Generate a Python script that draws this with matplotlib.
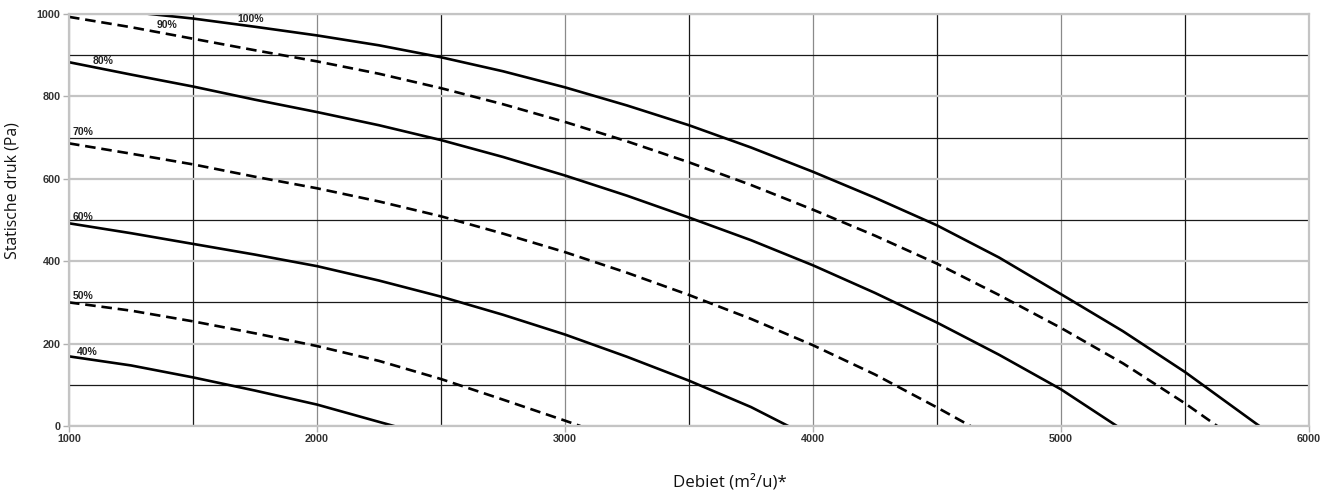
import matplotlib
matplotlib.use("Agg")
import matplotlib.pyplot as plt
from matplotlib.ticker import MultipleLocator

# Data (flow in m3/h, static pressure in Pa)
p100_x = [1250, 1500, 1750, 2000, 2250, 2500, 2750, 3000, 3250, 3500, 3750, 4000,
          4250, 4500, 4750, 5000, 5250, 5500, 5800]
p100_y = [1005, 989, 969, 948, 924, 895, 861, 822, 778, 730, 676, 617,
          554, 487, 409, 320, 230, 131, 0]
p90_x = [1000, 1250, 1500, 1750, 2000, 2250, 2500, 2750, 3000, 3250, 3500, 3750,
         4000, 4250, 4500, 4750, 5000, 5250, 5500, 5630]
p90_y = [993, 968, 940, 912, 885, 855, 820, 781, 738, 691, 640, 585,
         525, 462, 394, 318, 238, 152, 55, 0]
p80_x = [1000, 1250, 1500, 1750, 2000, 2250, 2500, 2750, 3000, 3250, 3500, 3750,
         4000, 4250, 4500, 4750, 5000, 5225]
p80_y = [883, 853, 824, 792, 762, 730, 694, 653, 608, 559, 506, 451,
         390, 323, 251, 173, 89, 0]
p70_x = [1000, 1250, 1500, 1750, 2000, 2250, 2500, 2750, 3000, 3250, 3500, 3750,
         4000, 4250, 4500, 4635]
p70_y = [686, 661, 635, 605, 577, 545, 509, 467, 422, 372, 318, 260,
         196, 125, 45, 0]
p60_x = [1000, 1250, 1500, 1750, 2000, 2250, 2500, 2750, 3000, 3250, 3500, 3750, 3900]
p60_y = [492, 468, 442, 416, 388, 353, 314, 270, 222, 168, 110, 46, 0]
p50_x = [1000, 1250, 1500, 1750, 2000, 2250, 2500, 2750, 3000, 3062]
p50_y = [300, 280, 254, 225, 194, 158, 114, 64, 13, 0]
p40_x = [1000, 1250, 1500, 1750, 2000, 2250, 2310]
p40_y = [169, 147, 118, 86, 52, 10, 0]

series_labels = ["100%", "90%", "80%", "70%", "60%", "50%", "40%"]
label_x = [1680, 1355, 1097, 1016, 1016, 1016, 1030]
label_y = [988, 973, 886, 714, 507, 316, 180]

xticks = [1000, 2000, 3000, 4000, 5000, 6000]
yticks = [0, 200, 400, 600, 800, 1000]

fig = plt.figure(figsize=(13.35, 4.96), dpi=100)
ax = fig.add_axes([69 / 1335, 1 - 426 / 496, (1309 - 69) / 1335, (426 - 14) / 496])

ax.set_xlim(1000, 6000)
ax.set_ylim(0, 1000)
ax.xaxis.set_minor_locator(MultipleLocator(500))
ax.yaxis.set_minor_locator(MultipleLocator(100))
ax.set_xticks(xticks)
ax.set_yticks(yticks)

# grid
ax.grid(True, which="major", axis="y", color="#c4c4c4", lw=1.6)
ax.grid(True, which="major", axis="x", color="#8a8a8a", lw=0.9)
ax.grid(True, which="minor", color="#1a1a1a", lw=0.9)
ax.set_axisbelow(True)

for s in ax.spines.values():
    s.set_color("#c4c4c4")
    s.set_linewidth(1.6)

ax.tick_params(which="major", length=4, width=1, color="#b0b0b0",
               labelsize=7.8, labelcolor="#333333", pad=2)
ax.tick_params(which="minor", length=0)
for lab in ax.get_xticklabels() + ax.get_yticklabels():
    lab.set_fontweight("bold")
    lab.set_family("Liberation Sans")

solid = dict(color="black", lw=1.9, solid_joinstyle="round")
dashed = dict(color="black", lw=1.9, linestyle=(0, (4, 2.2)))
ax.plot(p100_x, p100_y, **solid)
ax.plot(p90_x, p90_y, **dashed)
ax.plot(p80_x, p80_y, **solid)
ax.plot(p70_x, p70_y, **dashed)
ax.plot(p60_x, p60_y, **solid)
ax.plot(p50_x, p50_y, **dashed)
ax.plot(p40_x, p40_y, **solid)

for t, x, y in zip(series_labels, label_x, label_y):
    ax.text(x, y, t, fontsize=7.5, fontweight="bold", family="Liberation Sans",
            color="#222222", ha="left", va="center")

fig.text(13 / 1335, 1 - 191 / 496, "Statische druk (Pa)", rotation=90,
         ha="center", va="center", fontsize=11.4, family="Open Sans", color="#111111")
fig.text(730 / 1335, 1 - 482 / 496, "Debiet (m\u00b2/u)*",
         ha="center", va="center", fontsize=12.2, family="Open Sans", color="#111111")

fig.savefig("out.png", dpi=100)
